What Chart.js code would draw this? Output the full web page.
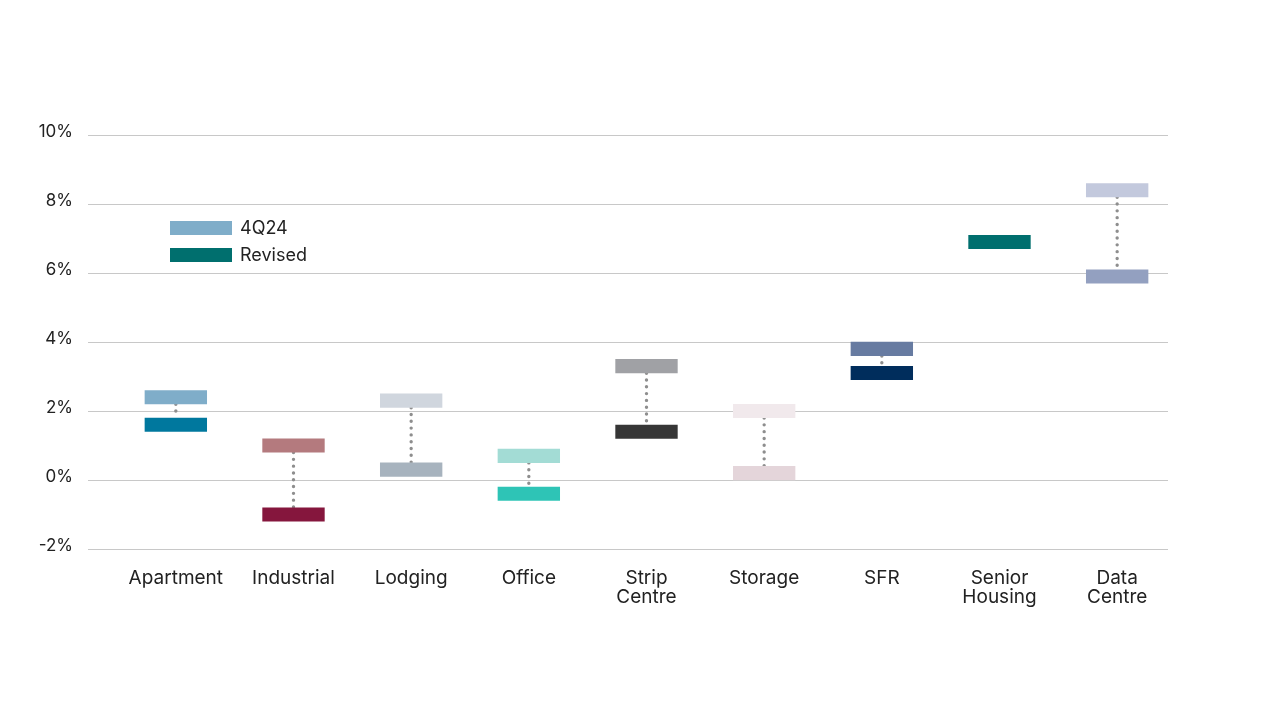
<!DOCTYPE html>
<html>
<head>
<meta charset="utf-8">
<script src="https://cdn.jsdelivr.net/npm/chart.js@4"></script>
<style>
    html, body { margin: 0; padding: 0; background: #fff; }
    #wrap { position: relative; width: 1280px; height: 711px; }
    .legend { position: absolute; left: 170px; font-family: Inter, sans-serif; font-size: 18px; color: #222; }
    .legend div { display: flex; align-items: center; height: 27px; }
    .legend span.sw { display: inline-block; width: 62px; height: 14px; margin-right: 8px; }
</style>
</head>
<body>
<div id="wrap">
    <canvas id="chart" width="1280" height="711"></canvas>
    <div class="legend" style="top:214px">
        <div><span class="sw" style="background:#7FADC9"></span>4Q24</div>
        <div><span class="sw" style="background:#006F6E"></span>Revised</div>
    </div>
</div>
<script>
const categories = ['Apartment', 'Industrial', 'Lodging', 'Office', ['Strip', 'Centre'], 'Storage', 'SFR', ['Senior', 'Housing'], ['Data', 'Centre']];
const q424 = [2.4, 1.0, 2.3, 0.7, 3.3, 2.0, 3.8, null, 8.4];
const revised = [1.6, -1.0, 0.3, -0.4, 1.4, 0.2, 3.1, 6.9, 5.9];
const yTicks = [-2, 0, 2, 4, 6, 8, 10];

const q424Colors = ['#7FADC9', '#B47A7E', '#D0D6DE', '#A3DCD5', '#A0A1A5', '#F1E9EC', '#677BA1', '#7FADC9', '#C3C9DD'];
const revisedColors = ['#00789E', '#85163D', '#A7B3BE', '#2EC4B6', '#363636', '#E4D5DA', '#002D5C', '#006F6E', '#93A0C0'];

// each marker is drawn as a thin floating bar around its value
const HALF = 0.205;
const toRange = (v) => v === null ? null : [v - HALF, v + HALF];

// horizontal gridlines run a little wider on the left than the category band
const GRID_LEFT = 88, GRID_RIGHT = 1168;

const gridPlugin = {
    id: 'hgrid',
    beforeDatasetsDraw(chart) {
        const ctx = chart.ctx, y = chart.scales.y;
        ctx.save();
        ctx.strokeStyle = '#c8c8c8';
        ctx.lineWidth = 1;
        yTicks.forEach(v => {
            const py = Math.round(y.getPixelForValue(v)) + 0.5;
            ctx.beginPath();
            ctx.moveTo(GRID_LEFT, py);
            ctx.lineTo(GRID_RIGHT, py);
            ctx.stroke();
        });
        ctx.restore();
    }
};

// dotted connector between the two markers of a category
const connectorPlugin = {
    id: 'connector',
    beforeDatasetsDraw(chart) {
        const ctx = chart.ctx;
        const x = chart.scales.x, y = chart.scales.y;
        ctx.save();
        ctx.strokeStyle = '#8e8e8e';
        ctx.lineWidth = 3.4;
        ctx.lineCap = 'round';
        ctx.setLineDash([0, 6.8]);
        categories.forEach((c, i) => {
            if (q424[i] === null || revised[i] === null) return;
            const hi = Math.max(q424[i], revised[i]) - HALF;
            const lo = Math.min(q424[i], revised[i]) + HALF;
            const px = x.getPixelForValue(i);
            ctx.beginPath();
            ctx.moveTo(px, y.getPixelForValue(hi));
            ctx.lineTo(px, y.getPixelForValue(lo));
            ctx.stroke();
        });
        ctx.restore();
    }
};

Chart.defaults.font.family = 'Inter, sans-serif';
Chart.defaults.color = '#222';

new Chart(document.getElementById('chart').getContext('2d'), {
    type: 'bar',
    data: {
        labels: categories,
        datasets: [{
            label: '4Q24',
            data: q424.map(toRange),
            backgroundColor: q424Colors,
            borderWidth: 0,
            grouped: false
        }, {
            label: 'Revised',
            data: revised.map(toRange),
            backgroundColor: revisedColors,
            borderWidth: 0,
            grouped: false
        }]
    },
    options: {
        responsive: false,
        animation: false,
        categoryPercentage: 1,
        barPercentage: 0.53,
        layout: { padding: { top: 135, right: 104, bottom: 82, left: 0 } },
        plugins: {
            legend: { display: false },
            tooltip: { enabled: false }
        },
        scales: {
            x: {
                grid: { display: false },
                border: { display: false },
                ticks: {
                    font: { size: 19, lineHeight: 1.0 },
                    padding: 12,
                    maxRotation: 0,
                    autoSkip: false
                },
                afterFit: (s) => { s.height = 80; }
            },
            y: {
                min: -2,
                max: 10,
                afterBuildTicks: (s) => { s.ticks = yTicks.map(v => ({ value: v })); },
                grid: { display: false, drawTicks: false },
                border: { display: false },
                ticks: {
                    font: { size: 17 },
                    padding: 44,
                    labelOffset: -3,
                    callback: (v) => v + '%'
                },
                afterFit: (s) => { s.width = 117; }
            }
        }
    },
    plugins: [gridPlugin, connectorPlugin]
});
</script>
</body>
</html>
